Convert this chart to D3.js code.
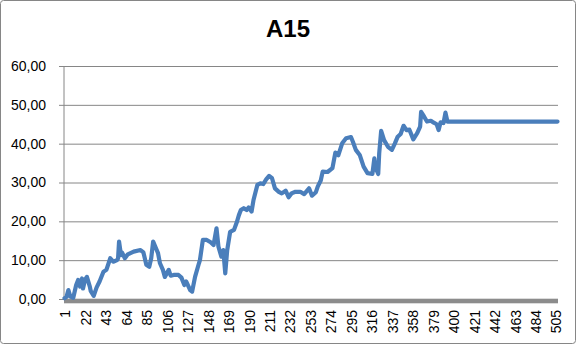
<!DOCTYPE html>
<html>
<head>
<meta charset="utf-8">
<script src="https://cdn.jsdelivr.net/npm/d3@7"></script>
<style>
  body { margin: 0; background: #fff; }
  text { font-family: "Liberation Sans", Arial, sans-serif; }
</style>
</head>
<body>
<svg id="chart" width="577" height="347"></svg>
<script>
// chart title and category count
var title = 'A15';
var nCats = 507;

// x positions (category number) of the read points
var pointIdx = [1,3,5,7,10,13,15,17,19,20,22,24,27,28,31,34,37,41,44,48,51,55,56,57,59,60,63,66,72,79,
  82,85,88,90,92,95,97,99,102,104,108,110,113,118,121,124,126,130,132,135,139,140,143,147,151,154,157,159,
  162,164,166,168,171,175,178,180,182,185,188,190,193,195,199,202,205,208,211,214,217,221,224,228,231,234,
  238,243,247,252,255,259,261,264,266,271,276,279,282,286,290,295,297,300,304,308,312,317,319,320,323,324,
  326,329,333,337,340,343,346,349,352,355,359,363,366,367,370,373,377,380,383,385,387,390,392,394,507];

// values at those points
var pointVal = [0.2,0.5,2.3,0.6,0.3,3.6,4.9,3.2,5.3,2.7,4.9,5.7,3.2,2.0,0.8,3.0,4.5,7.0,7.5,10.5,9.6,10.0,10.5,14.8,11.3,12.0,10.5,11.5,12.2,12.6,
  12.0,8.8,8.3,10.5,14.8,13.0,11.8,9.2,7.5,5.7,7.5,6.0,6.2,6.2,5.5,3.6,4.5,2.3,1.9,5.7,9.2,10.0,15.2,15.2,14.6,13.9,18.2,13.5,
  10.9,12.6,6.6,12.6,17.3,17.8,19.9,21.6,22.9,23.4,22.9,23.6,22.5,25.5,29.4,29.8,29.6,30.8,31.7,31.1,28.5,27.6,27.2,27.9,26.2,27.2,
  27.6,27.6,27.0,28.5,26.6,27.5,29.0,30.5,32.8,32.7,33.7,37.7,37.0,40.1,41.4,41.7,40.5,38.4,37.1,34.1,32.4,32.2,36.2,34.0,32.2,37.5,
  43.3,40.9,39.2,38.4,40.0,41.8,42.5,44.6,43.5,43.6,41.1,42.7,44.4,48.2,47.0,45.7,45.9,45.4,45.0,43.5,45.5,45.3,48.0,45.7,45.7];

// axis ticks
var yTicks = [0, 10, 20, 30, 40, 50, 60];
var xTickLabels = d3.range(1, nCats + 1, 21);

var svg = d3.select('#chart');

// outer chart border
svg.append('rect')
  .attr('x', 0.5).attr('y', 0.5)
  .attr('width', 575).attr('height', 343)
  .attr('rx', 3)
  .attr('fill', '#fff')
  .attr('stroke', '#868686');

var x = d3.scaleLinear().domain([0.5, nCats + 0.5]).range([64, 558]);
var y = d3.scaleLinear().domain([0, 60]).range([299, 66]);

// title
svg.append('text')
  .attr('x', 288).attr('y', 37)
  .attr('text-anchor', 'middle')
  .attr('font-size', 24)
  .attr('font-weight', 'bold')
  .text(title);

// y grid + labels
var yAxis = d3.axisLeft(y)
  .tickValues(yTicks)
  .tickSize(-(558 - 59))
  .tickPadding(13)
  .tickFormat(function(d) { return d3.format('.2f')(d).replace('.', ','); });

var gy = svg.append('g')
  .attr('transform', 'translate(59,0)')
  .call(yAxis);
gy.select('.domain').remove();
gy.selectAll('.tick line').attr('stroke', '#868686');
gy.selectAll('.tick text')
  .attr('font-size', 14)
  .attr('fill', '#000');

// vertical axis line
svg.append('line')
  .attr('x1', 64).attr('x2', 64)
  .attr('y1', 66).attr('y2', 299)
  .attr('stroke', '#868686');

// thick zero band
svg.append('rect')
  .attr('x', 64).attr('y', y(0) - 0.3)
  .attr('width', 558 - 64).attr('height', 4.6)
  .attr('fill', '#8c8c8c');

// x labels, rotated
svg.append('g').selectAll('text')
  .data(xTickLabels)
  .enter()
  .append('text')
  .attr('transform', function(d) { return 'translate(' + (x(d) + 1) + ',310) rotate(-90)'; })
  .attr('text-anchor', 'end')
  .attr('dy', '0.35em')
  .attr('font-size', 14)
  .text(function(d) { return d; });

// the series
var pts = pointIdx.map(function(d, i) { return [d, pointVal[i]]; });
var line = d3.line()
  .x(function(d) { return x(d[0]); })
  .y(function(d) { return y(d[1]); });

svg.append('path')
  .datum(pts)
  .attr('d', line)
  .attr('fill', 'none')
  .attr('stroke', '#4a7ebb')
  .attr('stroke-width', 4.2)
  .attr('stroke-linejoin', 'round')
  .attr('stroke-linecap', 'round');
</script>
</body>
</html>
